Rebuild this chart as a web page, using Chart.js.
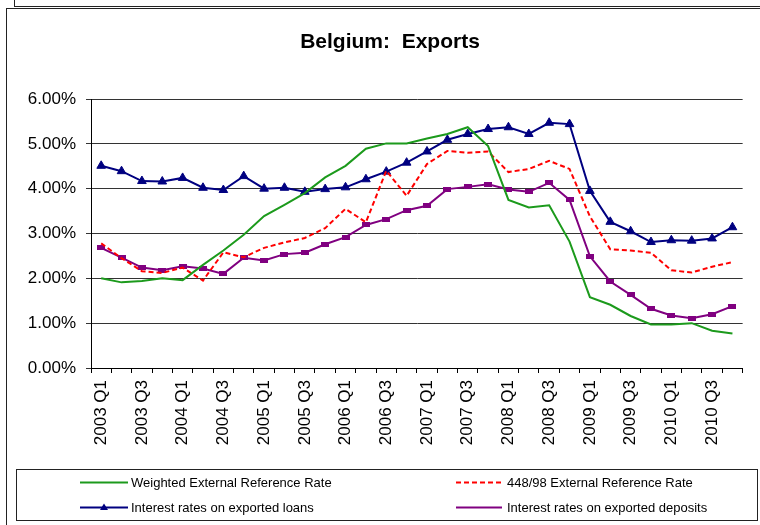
<!DOCTYPE html>
<html><head><meta charset="utf-8">
<script src="https://cdn.jsdelivr.net/npm/chart.js@4"></script>
<style>
html,body{margin:0;padding:0;background:#fff;}
#wrap{position:relative;width:760px;height:525px;overflow:hidden;font-family:"Liberation Sans",Arial,sans-serif;color:#000;}
#c{position:absolute;left:0;top:0;}
.frame{position:absolute;left:6px;top:8px;width:800px;height:600px;border-left:1px solid #222;border-top:1px solid #222;}
.frame2{position:absolute;left:14px;top:-5px;width:800px;height:11px;border-left:1px solid #222;border-bottom:1px solid #222;}
#title{position:absolute;left:0;width:780px;top:30px;text-align:center;font-weight:bold;font-size:21px;line-height:21px;}
#legend{position:absolute;left:16px;top:469px;width:742px;height:52px;border:1px solid #222;box-sizing:border-box;}
.lt{position:absolute;font-size:13px;line-height:13px;white-space:nowrap;}
#lsvg{position:absolute;left:0;top:0;}
</style></head>
<body>
<div id="wrap">
  <div class="frame2"></div>
  <div class="frame"></div>
  <canvas id="c" width="760" height="525"></canvas>
  <div id="title">Belgium:&nbsp; Exports</div>
  <div id="legend"></div>
  <svg id="lsvg" width="760" height="525">
    <line x1="80" y1="482.5" x2="128" y2="482.5" stroke="#1c9a1c" stroke-width="2"/>
    <line x1="456" y1="482.5" x2="502" y2="482.5" stroke="#ff0000" stroke-width="2" stroke-dasharray="5,3"/>
    <line x1="80" y1="507.5" x2="128" y2="507.5" stroke="#000080" stroke-width="2"/>
    <polygon points="104,503.5 100,510 108,510" fill="#000080"/>
    <line x1="456" y1="507.5" x2="502" y2="507.5" stroke="#800080" stroke-width="2"/>
  </svg>
  <div class="lt" style="left:131px;top:476px;">Weighted External Reference Rate</div>
  <div class="lt" style="left:507px;top:476px;">448/98 External Reference Rate</div>
  <div class="lt" style="left:131px;top:501px;">Interest rates on exported loans</div>
  <div class="lt" style="left:507px;top:501px;">Interest rates on exported deposits</div>
</div>
<script>
const categories = [
 "2003 Q1","2003 Q2","2003 Q3","2003 Q4",
 "2004 Q1","2004 Q2","2004 Q3","2004 Q4",
 "2005 Q1","2005 Q2","2005 Q3","2005 Q4",
 "2006 Q1","2006 Q2","2006 Q3","2006 Q4",
 "2007 Q1","2007 Q2","2007 Q3","2007 Q4",
 "2008 Q1","2008 Q2","2008 Q3","2008 Q4",
 "2009 Q1","2009 Q2","2009 Q3","2009 Q4",
 "2010 Q1","2010 Q2","2010 Q3","2010 Q4"
];
const weightedRate = [2.00,1.91,1.94,2.00,1.96,2.30,2.62,2.97,3.39,3.64,3.90,4.25,4.51,4.89,5.01,5.01,5.12,5.22,5.37,4.95,3.75,3.58,3.63,2.82,1.58,1.41,1.16,0.97,0.97,1.00,0.83,0.77];
const rate44898 = [2.78,2.45,2.16,2.12,2.24,1.95,2.58,2.47,2.68,2.80,2.90,3.12,3.55,3.25,4.40,3.84,4.55,4.84,4.80,4.83,4.37,4.44,4.62,4.44,3.38,2.65,2.62,2.57,2.18,2.13,2.26,2.36];
const loansRate = [4.51,4.39,4.17,4.16,4.24,4.02,3.97,4.28,4.00,4.02,3.93,3.99,4.03,4.21,4.38,4.58,4.83,5.09,5.22,5.33,5.37,5.22,5.47,5.44,3.95,3.26,3.05,2.81,2.85,2.84,2.89,3.14];
const depositsRate = [2.68,2.46,2.24,2.18,2.27,2.22,2.10,2.46,2.40,2.54,2.57,2.76,2.92,3.19,3.32,3.52,3.62,3.99,4.04,4.10,3.98,3.93,4.13,3.75,2.49,1.93,1.63,1.32,1.17,1.11,1.20,1.38];
const yTicks = [0,1,2,3,4,5,6];

const FONT = '"Liberation Sans", Arial, sans-serif';
const rectMarker = document.createElement('canvas');
rectMarker.width = 8; rectMarker.height = 5;
(function(){const g=rectMarker.getContext('2d');g.fillStyle='#800080';g.fillRect(0,0,8,5);})();

new Chart(document.getElementById('c'), {
  type: 'line',
  data: {
    labels: categories,
    datasets: [
      {label:'Weighted External Reference Rate', data:weightedRate, borderColor:'#1c9a1c', borderWidth:2, pointRadius:0, tension:0},
      {label:'448/98 External Reference Rate', data:rate44898, borderColor:'#ff0000', borderWidth:2, borderDash:[5,3], pointRadius:0, tension:0},
      {label:'Interest rates on exported loans', data:loansRate, borderColor:'#000080', borderWidth:2, pointStyle:'triangle', pointRadius:5, pointBackgroundColor:'#000080', pointBorderColor:'#000080', pointBorderWidth:1, tension:0},
      {label:'Interest rates on exported deposits', data:depositsRate, borderColor:'#800080', borderWidth:2, pointStyle:rectMarker, pointRadius:4, tension:0}
    ]
  },
  options: {
    responsive:false, animation:false, devicePixelRatio:1,
    layout:{padding:{left:0,right:10,top:99,bottom:67}},
    plugins:{legend:{display:false}, tooltip:{enabled:false}, title:{display:false}},
    scales:{
      x:{
        offset:true,
        grid:{drawOnChartArea:false, offset:true, color:'#000', tickLength:5, tickColor:'#000'},
        border:{color:'#000', width:1},
        ticks:{autoSkip:false, maxRotation:90, minRotation:90, padding:7, color:'#000', font:{size:17, family:FONT},
          callback:function(v,i){return i%2===0 ? this.getLabelForValue(v) : '';}},
        afterFit:function(s){s.height=90;}
      },
      y:{
        min:0, max:6,
        afterBuildTicks:function(s){s.ticks = yTicks.map(v=>({value:v}));},
        grid:{color:'#333', tickLength:5, tickColor:'#333'},
        border:{color:'#000', width:1},
        ticks:{padding:10, color:'#000', font:{size:17, family:FONT}, callback:v=>v.toFixed(2)+'%'},
        afterFit:function(s){s.width=91;}
      }
    }
  }
});
</script>
</body></html>
